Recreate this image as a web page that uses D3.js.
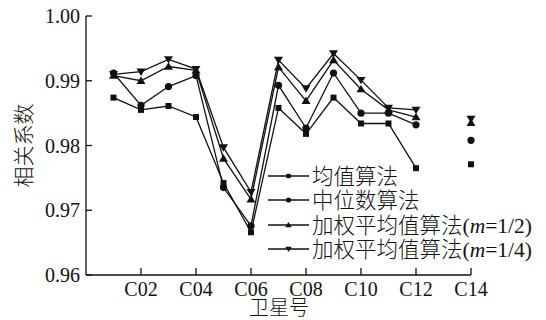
<!DOCTYPE html>
<html>
<head>
<meta charset="utf-8">
<script src="https://cdn.jsdelivr.net/npm/d3@7/dist/d3.min.js"></script>
<style>
  html, body { margin: 0; padding: 0; background: #fff; }
  svg { display: block; }
  text { font-family: "Liberation Serif", "Noto Sans CJK SC", serif; fill: #111; }
  .cjk { font-weight: 300; }
</style>
</head>
<body>
<svg id="chart" width="546" height="320"></svg>
<script>
// Satellite numbers (C01..C14) and correlation coefficients per method; C13 has no value
const satellites = [1, 2, 3, 4, 5, 6, 7, 8, 9, 10, 11, 12, 13, 14];
const meanVals    = [0.9874, 0.9855, 0.9861, 0.9844, 0.9742, 0.9666, 0.9858, 0.9818, 0.9874, 0.9834, 0.9834, 0.9765, null, 0.9771];
const medianVals  = [0.9912, 0.9862, 0.9891, 0.9908, 0.9735, 0.9676, 0.9893, 0.9827, 0.9912, 0.9850, 0.9850, 0.9832, null, 0.9808];
const weightHalf  = [0.9908, 0.9900, 0.9922, 0.9916, 0.9780, 0.9717, 0.9921, 0.9869, 0.9932, 0.9887, 0.9855, 0.9844, null, 0.9835];
const weightQuart = [0.9910, 0.9914, 0.9933, 0.9918, 0.9797, 0.9728, 0.9932, 0.9888, 0.9942, 0.9901, 0.9858, 0.9855, null, 0.9841];

const xTickVals = [2, 4, 6, 8, 10, 12, 14];
const xTickLabels = ["C02", "C04", "C06", "C08", "C10", "C12", "C14"];
const yTickVals = [0.96, 0.97, 0.98, 0.99, 1.00];
const yTickLabels = ["0.96", "0.97", "0.98", "0.99", "1.00"];

const seriesNames = ["均值算法", "中位数算法", "加权平均值算法", "加权平均值算法"];
const seriesSuffix = [null, null, "1/2", "1/4"];
const seriesValues = [meanVals, medianVals, weightHalf, weightQuart];
const seriesSymbols = ["square", "circle", "up", "down"];

const svg = d3.select("#chart");
const x = d3.scaleLinear().domain([0, 14]).range([86, 471]);
const y = d3.scaleLinear().domain([0.96, 1.00]).range([275, 16]);

// axes
const axisG = svg.append("g");
axisG.append("line").attr("x1", x(0)).attr("x2", x(0)).attr("y1", y(0.96)).attr("y2", y(1.00))
  .attr("stroke", "#111").attr("stroke-width", 1.3);
axisG.append("line").attr("x1", x(0)).attr("x2", x(14)).attr("y1", y(0.96)).attr("y2", y(0.96))
  .attr("stroke", "#111").attr("stroke-width", 1.3);

yTickVals.forEach((v, i) => {
  axisG.append("line").attr("x1", x(0)).attr("x2", x(0) + 6).attr("y1", y(v)).attr("y2", y(v))
    .attr("stroke", "#111").attr("stroke-width", 1.3);
  axisG.append("text").attr("x", x(0) - 6).attr("y", y(v)).attr("dy", "0.35em")
    .attr("text-anchor", "end").attr("font-size", 20).text(yTickLabels[i]);
});
xTickVals.forEach((v, i) => {
  axisG.append("line").attr("x1", x(v)).attr("x2", x(v)).attr("y1", y(0.96)).attr("y2", y(0.96) - 7)
    .attr("stroke", "#111").attr("stroke-width", 1.3);
  axisG.append("text").attr("x", x(v)).attr("y", 296)
    .attr("text-anchor", "middle").attr("font-size", 20).text(xTickLabels[i]);
});

// axis titles
svg.append("text").attr("class", "cjk").attr("x", 279).attr("y", 315).attr("text-anchor", "middle")
  .attr("font-size", 20).text("卫星号");
svg.append("text").attr("class", "cjk").attr("transform", `translate(31,${y(0.98)}) rotate(-90)`)
  .attr("text-anchor", "middle").attr("font-size", 21).text("相关系数");

// marker drawing
function drawMarker(g, type, cx, cy, s) {
  if (type === "square") {
    g.append("rect").attr("x", cx - 3 * s).attr("y", cy - 3 * s).attr("width", 6 * s).attr("height", 6 * s).attr("fill", "#111");
  } else if (type === "circle") {
    g.append("circle").attr("cx", cx).attr("cy", cy).attr("r", 3.6 * s).attr("fill", "#111");
  } else if (type === "up") {
    g.append("path").attr("d", `M${cx},${cy - 4.2 * s}L${cx + 4.5 * s},${cy + 3.2 * s}L${cx - 4.5 * s},${cy + 3.2 * s}Z`).attr("fill", "#111");
  } else {
    g.append("path").attr("d", `M${cx},${cy + 4.2 * s}L${cx + 4.5 * s},${cy - 3.2 * s}L${cx - 4.5 * s},${cy - 3.2 * s}Z`).attr("fill", "#111");
  }
}

const line = d3.line()
  .defined(d => d.v != null)
  .x(d => x(d.s))
  .y(d => y(d.v));

const plot = svg.append("g");
seriesValues.forEach((vals, k) => {
  const pts = satellites.map((s, i) => ({ s, v: vals[i] }));
  plot.append("path").datum(pts).attr("d", line)
    .attr("fill", "none").attr("stroke", "#111").attr("stroke-width", 1.3);
});
seriesValues.forEach((vals, k) => {
  const g = plot.append("g");
  satellites.forEach((s, i) => {
    if (vals[i] != null) drawMarker(g, seriesSymbols[k], x(s), y(vals[i]), 1);
  });
});

// legend
const legendRows = [176, 200, 225, 249];
const legend = svg.append("g");
seriesNames.forEach((name, k) => {
  const ly = legendRows[k];
  legend.append("line").attr("x1", 268).attr("x2", 309).attr("y1", ly).attr("y2", ly)
    .attr("stroke", "#111").attr("stroke-width", 1.3);
  drawMarker(legend, seriesSymbols[k], 288.5, ly, 0.72);
  const t = legend.append("text").attr("class", "cjk").attr("x", 312).attr("y", ly).attr("dy", "0.36em").attr("font-size", 21.5);
  t.append("tspan").text(name);
  if (seriesSuffix[k]) {
    t.append("tspan").text("(");
    t.append("tspan").attr("font-style", "italic").text("m");
    t.append("tspan").text("=" + seriesSuffix[k] + ")");
  }
});
</script>
</body>
</html>
